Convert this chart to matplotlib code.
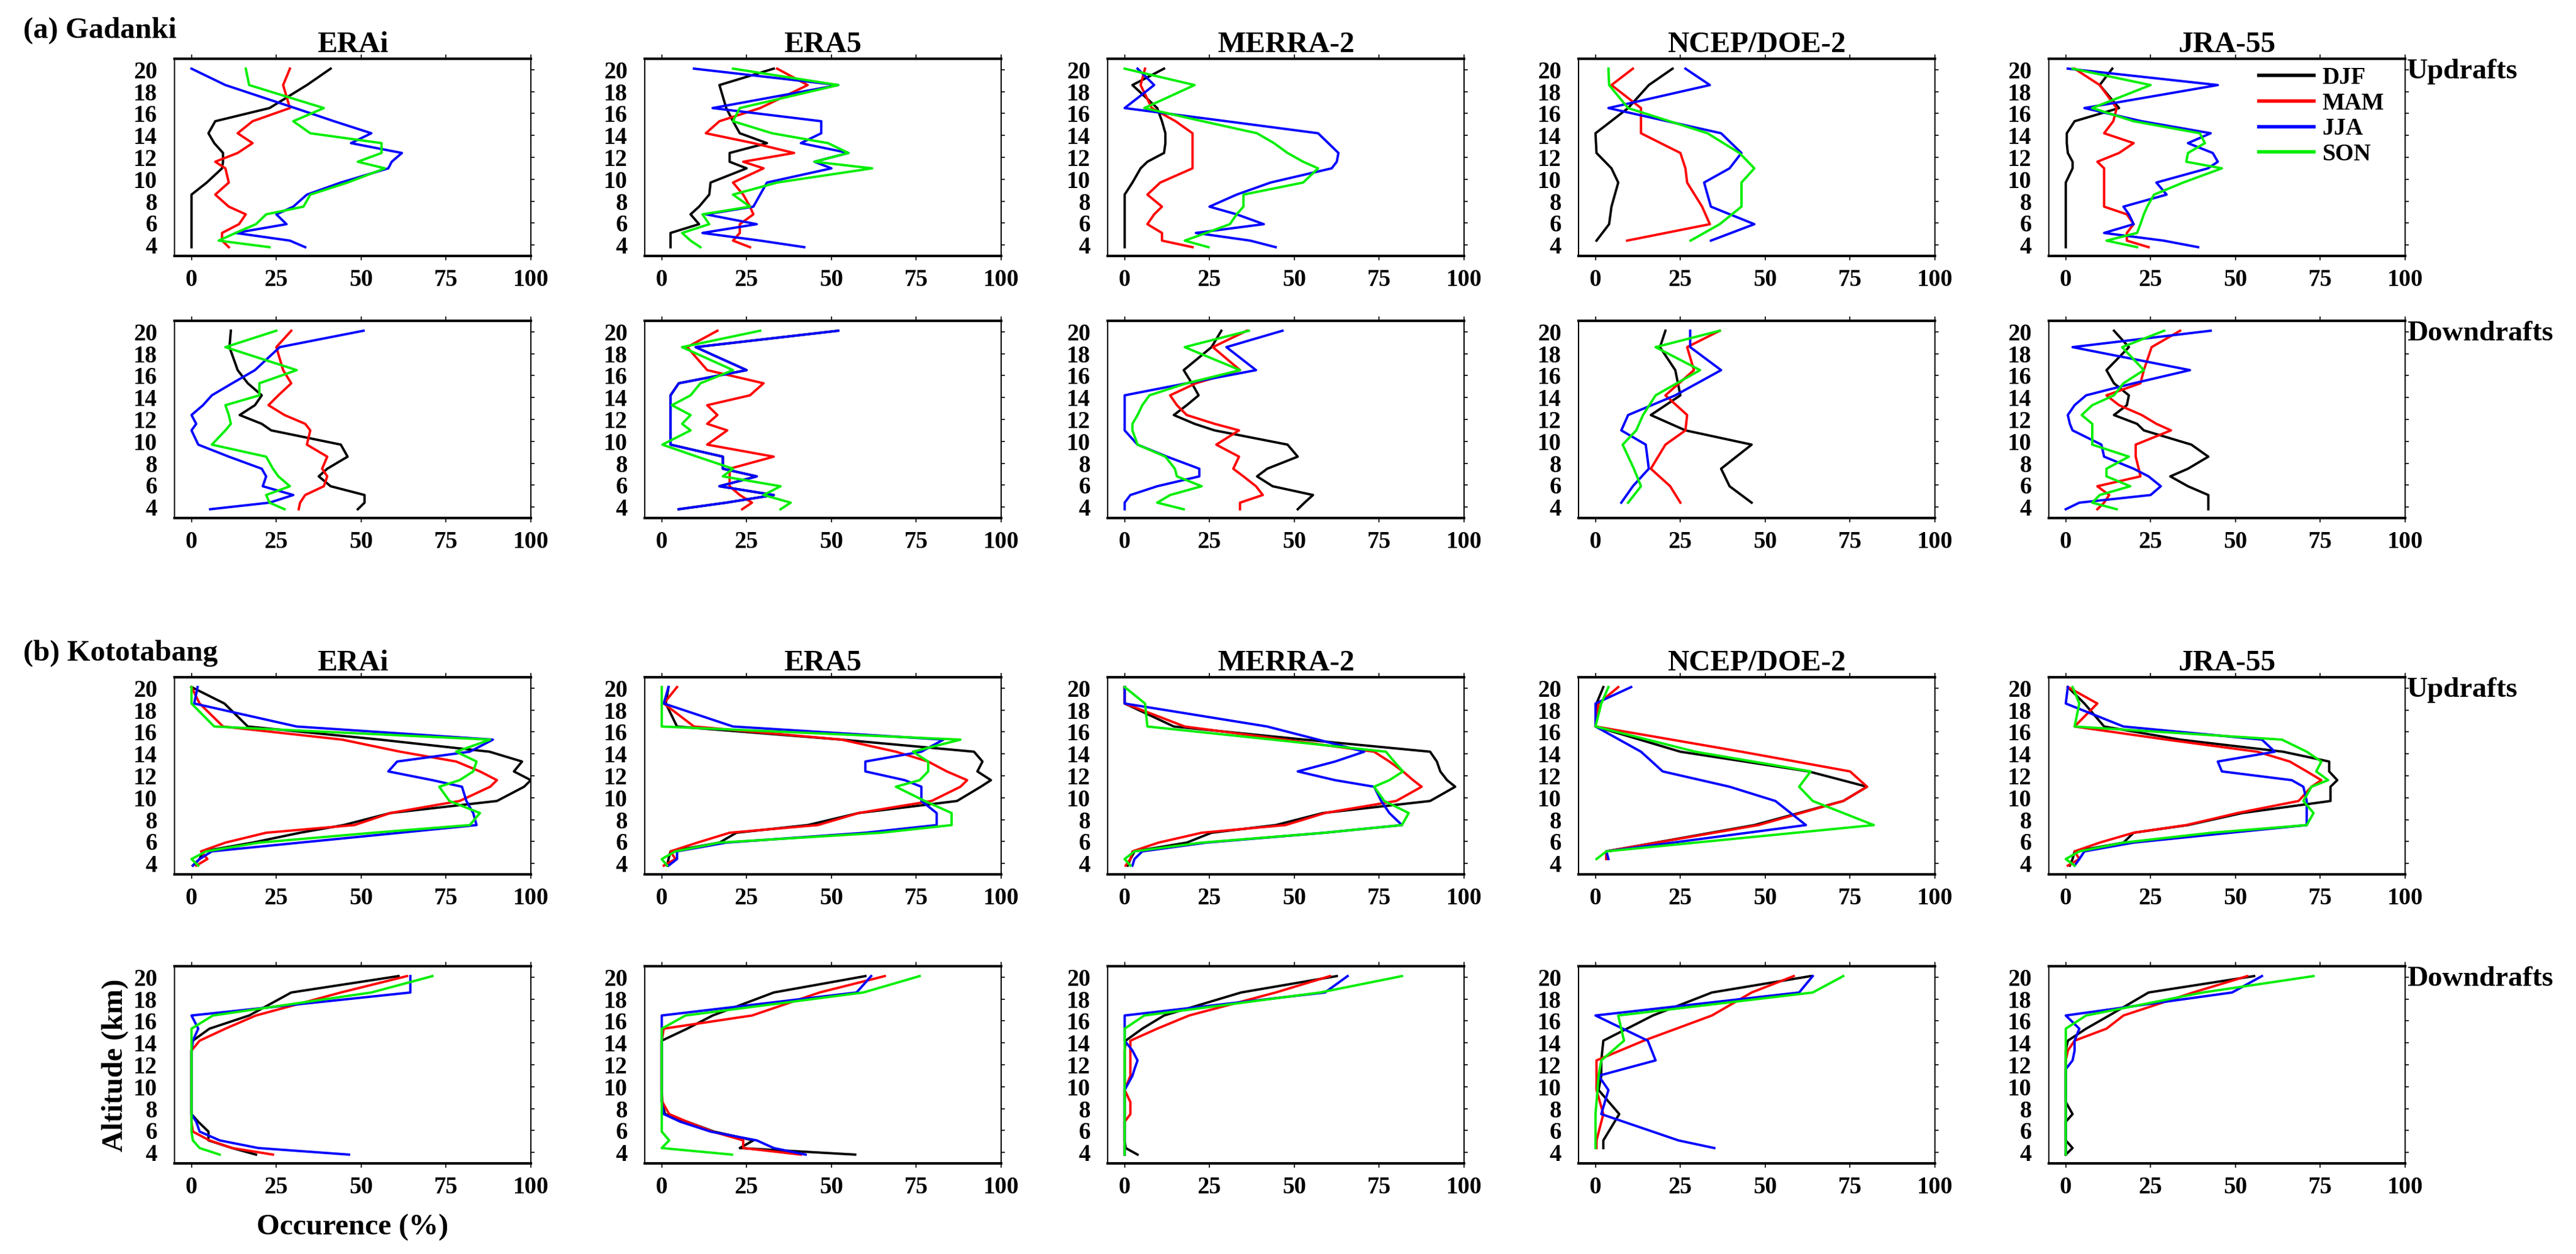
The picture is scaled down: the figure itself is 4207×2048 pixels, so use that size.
import matplotlib
matplotlib.use("Agg")
import matplotlib.pyplot as plt

# altitude levels (km) of the reanalysis pressure levels
alt = [3.8, 4.4, 5.1, 5.9, 6.8, 7.5, 8.6, 9.7, 11.0, 11.6, 12.4, 13.3, 14.2, 15.3, 16.5, 18.6, 20.1]
alt_ncep_gad = [4.4, 5.9, 7.5, 9.7, 11.0, 12.4, 14.2, 16.5, 18.6, 20.1]
alt_ncep_kot = [4.4, 5.1, 7.5, 9.7, 11.0, 12.4, 14.2, 16.5, 18.6, 20.1]

seasons = ["DJF", "MAM", "JJA", "SON"]
reanalyses = ["ERAi", "ERA5", "MERRA-2", "NCEP/DOE-2", "JRA-55"]

# (a) Gadanki - updrafts, each panel: [DJF, MAM, JJA, SON]
gad_up_erai = [
    [0, 0, 0, 0, 0, 0, 0, 4.5, 9, 9.3, 9.3, 6.7, 5, 7, 23, 34, 41],
    [11, 9, 9, 14, 16, 11, 7, 11, 10, 7, 13.6, 18, 13.6, 18, 29, 27, 29],
    [33.5, 29, 13, 28, 25, 30, 34, 44, 58, 59, 62, 47, 53, 42, 30.5, 10, 0],
    [23, 8, 13, 19, 22, 33, 35, 46, 57, 49, 56, 56, 35, 30, 39, 17, 16],
]
gad_up_era5 = [
    [2.6, 2.6, 2.6, 11, 8.5, 11, 14, 14.4, 25, 20, 20, 31, 23, 21, 19, 17, 33],
    [26, 21, 23, 23, 27, 26, 24, 21, 30, 24, 39, 27, 13, 17, 29, 43, 34],
    [42, 29, 12, 28, 13, 27, 29, 31, 50, 45, 55, 41, 47, 47, 15, 52, 9.5],
    [11.4, 8.5, 6, 14, 12, 26, 21, 34, 62, 45, 55, 49, 32.5, 21, 23, 52, 21],
]
gad_up_merra = [
    [0, 0, 0, 0, 0, 0, 0, 2.3, 4.7, 6.7, 11.6, 12, 12, 11, 9.6, 2.3, 11.6],
    [20, 11, 11, 6.7, 8.7, 11, 6.7, 10.5, 20, 20, 20, 20, 20, 15, 8, 4.7, 6],
    [44.5, 37, 21, 41, 33, 25, 33, 43, 61, 62.5, 63, 60, 57, 30, 0, 8.7, 3.8],
    [24.7, 17.7, 24, 31, 33, 35, 35, 52.6, 57, 52.6, 48, 44, 39, 23, 5.8, 20.6, 0],
]
gad_up_ncep = [
    [0.3, 4, 4.7, 6.7, 4.7, 0.3, 0, 9.6, 15.7, 22.7],
    [9.3, 33.7, 31.4, 27, 26.5, 25, 13.4, 13.4, 4.7, 11],
    [34, 46.8, 34, 32, 39.5, 43, 37, 3.8, 33.7, 26.5],
    [28, 36.6, 43, 43, 46.8, 42.4, 33, 9.6, 4, 3.8],
]
gad_up_jra = [
    [0, 0, 0, 0, 0, 0, 0, 0, 2, 2, 0.6, 0.3, 0.3, 2.6, 15.7, 10, 13.7],
    [24.4, 18, 18, 20, 18, 11.3, 11.3, 11.3, 11.3, 9.3, 15.7, 20, 11.3, 14, 15, 10, 2.6],
    [39, 28.8, 11.3, 20, 18.6, 17, 29.7, 26.7, 41.9, 44.8, 43.3, 36, 42.7, 22.4, 5.5, 44.8, 0.6],
    [21, 12, 21, 22, 23, 24, 26, 34.6, 46, 35.5, 36, 41, 39.5, 20, 7.8, 25, 2],
]

# (a) Gadanki - downdrafts
gad_dn_erai = [
    [49, 51, 51, 41, 37.5, 40, 46, 44, 23.5, 20.7, 14.2, 18.7, 20.7, 16.6, 13.6, 11.2, 11.6],
    [31.6, 32, 33.5, 39, 40, 38.5, 40, 34, 35, 33.5, 27.4, 22.7, 25.6, 29.4, 27, 25, 29.4],
    [5.5, 23, 30, 21, 22, 20.7, 11, 2, 0, 1.4, 0, 3.4, 6, 12, 18.7, 26, 50.7],
    [27.4, 23, 22, 29, 25.6, 24, 22, 6, 10, 11.6, 11, 10, 20, 20, 31, 10, 25],
]
gad_dn_era5 = [
    [5, 19, 33, 17, 28, 18, 18, 2.6, 2.6, 2.6, 2.6, 2.6, 2.6, 5, 25, 10, 52],
    [23.7, 26.6, 23, 20, 20, 20, 33, 13.4, 19.3, 13.4, 16.4, 13.4, 26, 30, 13.4, 7.5, 16.4],
    [5, 19, 33, 17, 28, 18, 18, 2.6, 2.6, 2.6, 2.6, 2.6, 2.6, 5, 25, 10, 52],
    [35, 38, 30, 35, 18, 21, 10.4, 0.2, 8.5, 6, 8.5, 3, 8.5, 11.4, 21, 6, 29],
]
gad_dn_merra = [
    [51, 53, 55.5, 43.6, 39, 42, 51, 48, 26.5, 20.6, 14.5, 18.3, 21.8, 19.8, 17.4, 25.6, 28.5],
    [34, 34, 40.7, 38.7, 35, 32, 33.7, 27, 33.7, 26.5, 18.3, 15.4, 13.4, 21, 34, 26, 36],
    [0, 0, 1.7, 9.6, 22, 22, 12.5, 3.8, 0, 0, 0, 0, 0, 18.3, 38.7, 30, 46.5],
    [17.4, 9.6, 13.4, 22.7, 15.4, 14.8, 12, 3.8, 2.3, 2.3, 3.8, 5.2, 7.3, 18.3, 34, 17.7, 36.6],
]
gad_dn_ncep = [
    [46, 39.5, 37, 46, 26.5, 16.3, 25, 23.5, 19, 20.6],
    [25, 22, 16.3, 20.6, 26.5, 27, 20.6, 29, 27, 36.6],
    [7.6, 11, 15.7, 14.8, 7.6, 9.6, 23.5, 37, 27.9, 27.9],
    [9.6, 13.4, 11.3, 8, 12, 14, 17.7, 30.8, 17.7, 36.6],
]
gad_dn_jra = [
    [42, 42, 42, 36, 30.8, 36, 42, 37, 23, 21, 14.2, 18, 18.6, 14.2, 12, 18.6, 14.2],
    [9.3, 11.3, 12.8, 9.3, 22, 21.5, 20.6, 20.6, 31, 26.7, 22.4, 15.7, 12, 22, 23, 25.3, 33.7],
    [0, 4, 25, 28, 24.4, 20, 11.3, 10.5, 2, 1.2, 0.6, 2.6, 6, 20, 36.6, 2, 42.7],
    [15, 7.8, 10, 19, 12, 12, 18.6, 7.8, 7.8, 7.8, 4.7, 7.8, 14.2, 17, 23, 16.6, 29],
]

# (b) Kototabang - updrafts
kot_up_erai = [
    [0.4, 2.4, 3.4, 18, 32, 44.8, 58.6, 90, 98, 100, 95, 97.4, 87.8, 55.6, 16.6, 9.7, 0],
    [1.4, 4.7, 2.8, 10, 22, 48, 58.6, 79, 88, 90, 85, 78, 61.5, 44.4, 9.3, 2.4, 0],
    [0.4, 2.4, 6, 32, 61.5, 84, 83, 81, 79.7, 71, 58, 60.6, 82, 88.8, 31, 0.8, 1.8],
    [2, 0, 4.3, 20, 53.6, 82, 85, 76, 73, 79, 83, 84, 78, 88, 6.7, 0, 0],
]
kot_up_era5 = [
    [1.6, 2, 2.6, 17, 22, 43, 58, 87, 94, 97, 93, 94.5, 92, 53, 4.5, 1.2, 2],
    [0.6, 4, 2.6, 10.5, 20, 46, 58, 79.5, 88, 90, 84, 78.5, 69, 53, 9.5, 0.6, 4.5],
    [2, 4.5, 4.5, 19, 60, 81, 81, 76.5, 76.5, 71.6, 60, 60, 76.5, 83, 21, 0.6, 2],
    [1.6, 0, 4, 17, 64.7, 85.4, 85.4, 77.5, 69, 76, 78.5, 78.5, 74, 88, 0, 0, 0],
]
kot_up_merra = [
    [0.9, 1.7, 2.9, 18.3, 25.6, 44.5, 58.4, 90, 97.4, 95, 93, 92, 90, 53, 14.5, 0, 0],
    [0.3, 1.7, 2.3, 10, 22.7, 47.4, 59, 80, 87.5, 85, 82, 78, 73.5, 47, 17.7, 0, 0],
    [2.3, 2.9, 5.2, 24, 59, 81.7, 78, 75.6, 73.5, 62, 51, 62, 70.6, 57, 42, 0, 0],
    [1.7, 0, 2.9, 22.7, 59, 81.7, 83.7, 76.5, 73.5, 78, 82, 79.4, 77, 43.6, 6.7, 6, 0],
]
kot_up_ncep = [
    [3.2, 3.2, 46.8, 73, 80, 62.8, 25, 0, 0.3, 2.3],
    [3.2, 3.2, 48, 73, 80, 75, 43, 0, 0.9, 6.7],
    [3.8, 3.2, 62, 53, 39.5, 19.8, 13.4, 0, 0, 10.5],
    [0.3, 3.2, 82, 64, 60, 63.4, 29.4, 0, 1.7, 3.8],
]
kot_up_jra = [
    [1.2, 2, 2.6, 17, 20, 36, 52, 78, 78, 80, 77.6, 77.6, 64, 33.7, 11.3, 5.5, 0.6],
    [0.6, 4, 2.6, 10, 20, 35.5, 50.6, 68.6, 72.4, 75.3, 71, 66, 56.4, 29.7, 2.6, 9.3, 0.6],
    [2.6, 4, 5.5, 20, 48.5, 71, 71, 71, 70, 66.6, 46, 44.8, 61.6, 57.8, 17, 0, 0.6],
    [2.6, 0, 4, 17, 43, 71, 73, 70, 72.4, 77.3, 73.8, 75.3, 71, 63.7, 2.6, 4, 2],
]

# (b) Kototabang - downdrafts
kot_dn_erai = [
    [19, 12, 5, 5, 2, 0, 0, 0, 0, 0, 0, 0, 0.4, 5.3, 17, 29.4, 61],
    [24, 12, 5.3, 0.4, 0, 0, 0, 0, 0, 0, 0, 0, 2.4, 10, 19, 44, 63.5],
    [46.4, 19.7, 8.3, 2.4, 1.4, 0, 0, 0, 0, 0, 0, 0, 0.4, 2, 0, 64.5, 64.5],
    [8.3, 2.4, 0.4, 0, 0, 0, 0, 0, 0, 0, 0, 0, 0, 0, 6.3, 53, 71],
]
kot_dn_era5 = [
    [57, 23, 27, 15.4, 7.5, 1, 0, 0, 0, 0, 0, 0, 0, 7.5, 15, 33, 60],
    [41, 24, 24, 15, 7.5, 2.2, 0.2, 0, 0, 0, 0, 0, 0, 0.6, 26.6, 46.5, 65.7],
    [42.4, 33, 28, 14.4, 5.5, 0.6, 0, 0, 0, 0, 0, 0, 0, 0, 0, 57.4, 61.7],
    [20.7, 0, 2.2, 0, 0, 0, 0, 0, 0, 0, 0, 0, 0, 0, 7, 59.4, 76],
]
kot_dn_merra = [
    [3.8, 0.3, 0, 0, 0, 0, 0, 0, 0, 0, 0, 0, 0.3, 5.2, 11.6, 34.3, 62.5],
    [0, 0, 0, 0, 0, 1.7, 1.7, 0, 1.7, 1.7, 1.7, 1.7, 1.7, 9.6, 19, 44.5, 60.5],
    [0, 0, 0, 0, 0, 0, 0, 0, 2.3, 2.9, 3.8, 2.3, 0, 0, 0, 59, 65.7],
    [0, 0, 0, 0, 0, 0, 0, 0, 0, 0, 0, 0, 0, 0, 5.8, 57.6, 81.7],
]
kot_dn_ncep = [
    [2.3, 2.3, 7, 0.9, 1.7, 1.7, 2.3, 16.9, 34.3, 63.4],
    [0.3, 0.3, 2.3, 0.3, 0.3, 0.3, 14.2, 34.3, 46, 58.4],
    [35, 24.4, 1.7, 3.8, 0.9, 17.7, 15.4, 0, 60, 64],
    [0, 0, 0, 0.6, 0.9, 1.7, 8.4, 6.7, 64, 73],
]
kot_dn_jra = [
    [0, 2, 0, 0, 0, 2, 0, 0, 0, 0, 0, 0, 0.6, 6, 12.8, 24.4, 55.5],
    [0, 0, 0, 0, 0, 0, 0, 0, 0, 0, 0, 0.6, 2.6, 12, 17, 37.5, 53.5],
    [0, 0, 0, 0, 0, 0, 0, 0, 0, 0, 2, 2.6, 2.6, 4, 0, 49, 57.8],
    [0, 0, 0, 0, 0, 0, 0, 0, 0, 0, 0, 0, 0, 0, 6, 40.4, 73],
]

colors = ["black", "#ff0000", "#0000ff", "#00ee00"]

plt.rcParams['font.family'] = ['Liberation Serif', 'DejaVu Serif']
plt.rcParams['font.weight'] = 'bold'

W, H = 4207, 2048
fig = plt.figure(figsize=(W / 100, H / 100), dpi=100)

col_left = [285, 1053, 1809, 2578, 3346]
row_top = [96, 524, 1106, 1578]
pw, ph = 582, 322

rows = [
    (alt_ncep_gad, "Updrafts", True, [gad_up_erai, gad_up_era5, gad_up_merra, gad_up_ncep, gad_up_jra]),
    (alt_ncep_gad, "Downdrafts", False, [gad_dn_erai, gad_dn_era5, gad_dn_merra, gad_dn_ncep, gad_dn_jra]),
    (alt_ncep_kot, "Updrafts", True, [kot_up_erai, kot_up_era5, kot_up_merra, kot_up_ncep, kot_up_jra]),
    (alt_ncep_kot, "Downdrafts", False, [kot_dn_erai, kot_dn_era5, kot_dn_merra, kot_dn_ncep, kot_dn_jra]),
]

for r, (ncep_alt, side, titled, panels) in enumerate(rows):
    for c, panel in enumerate(panels):
        ax = fig.add_axes([col_left[c] / W, 1 - (row_top[r] + ph) / H, pw / W, ph / H])
        levels = ncep_alt if reanalyses[c] == "NCEP/DOE-2" else alt
        for s, series in enumerate(panel):
            ax.plot(series, levels, color=colors[s], lw=2.8, label=seasons[s])
        ax.set_xlim(-5, 100)
        ax.set_ylim(3, 21)
        ax.set_xticks([0, 25, 50, 75, 100])
        ax.set_yticks(range(4, 21, 2))
        ax.tick_params(direction='out', top=True, right=True, width=1.2, labelsize=28)
        ax.tick_params(axis='x', length=5, pad=10)
        ax.tick_params(axis='y', left=False, length=4, pad=16)
        for sp in ["top", "bottom"]:
            ax.spines[sp].set_linewidth(3)
        for sp in ["left", "right"]:
            ax.spines[sp].set_linewidth(1.5)
        if titled:
            ax.set_title(reanalyses[c], fontsize=35, fontweight='bold', pad=8)
        if c == 4:
            ax.text(1.005, 1.0, side, transform=ax.transAxes, fontsize=34,
                    va='top', ha='left')
        if r == 0 and c == 4:
            leg = ax.legend(loc='upper left', bbox_to_anchor=(0.59, 0.96), frameon=False,
                            fontsize=28, handlelength=2.3, handletextpad=0.35,
                            labelspacing=0.12, borderpad=0, borderaxespad=0)
            for h in leg.get_lines():
                h.set_linewidth(4)

fig.text(38 / W, 1 - 28 / H, "(a) Gadanki", fontsize=35, va='top', ha='left')
fig.text(38 / W, 1 - 1045 / H, "(b) Kototabang", fontsize=35, va='top', ha='left')
fig.text(576 / W, 1 - 2005 / H, "Occurence (%)", fontsize=35, va='center', ha='center')
fig.text(188 / W, 1 - 1740 / H, "Altitude (km)", fontsize=35, va='center', ha='center',
         rotation=90)

fig.savefig("out.png", dpi=100)
